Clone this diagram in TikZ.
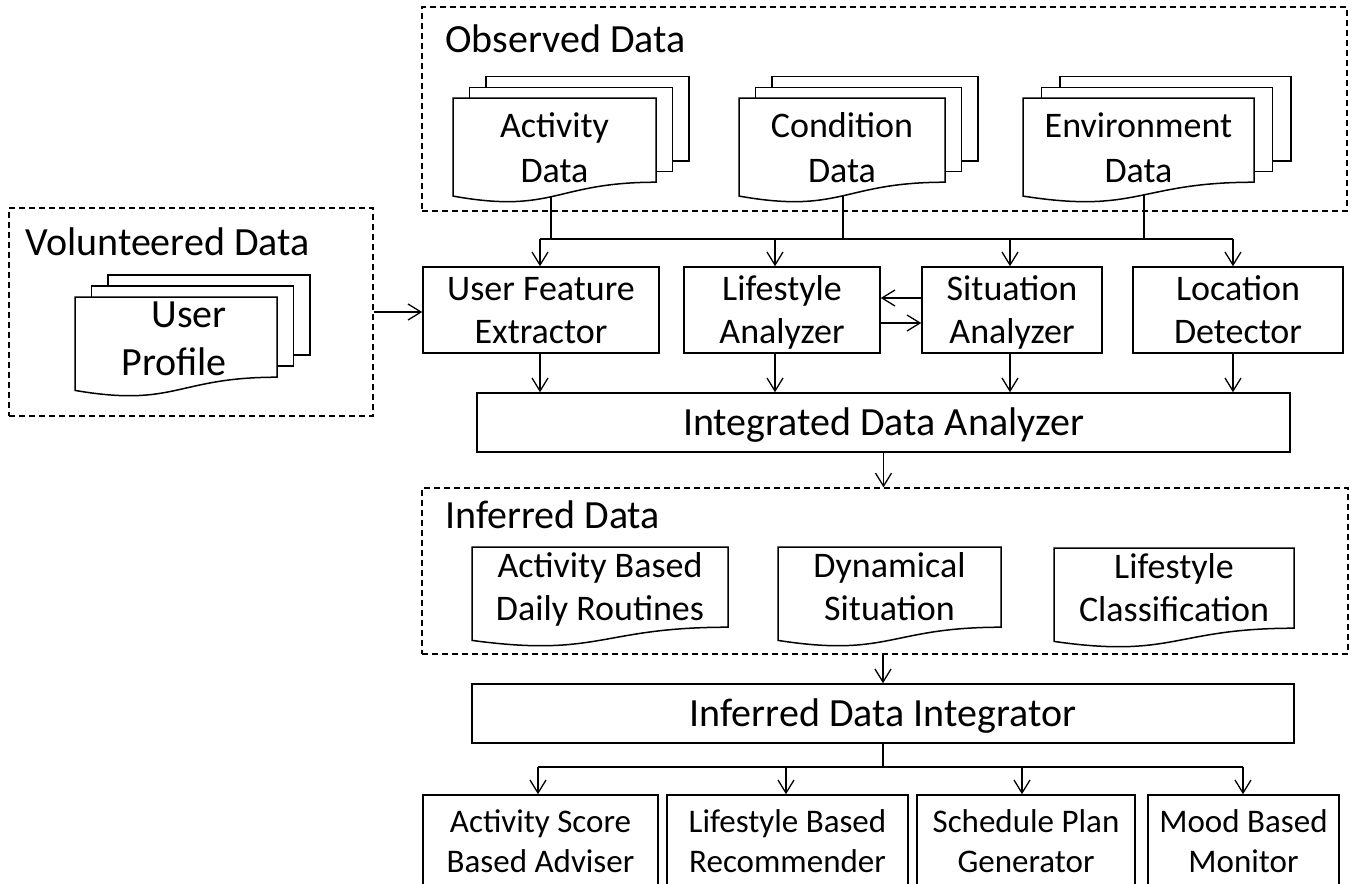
\documentclass[tikz,border=0pt]{standalone}
\usepackage{fontspec}
\setmainfont{Carlito}
\usetikzlibrary{arrows.meta}
\pgfdeclarelayer{back}
\pgfsetlayers{back,main}

% line struts: fix the height and depth of every text line
\newcommand\ls{\rule[-0.3em]{0pt}{1.15em}}
\newcommand\lb{\rule[-0.25em]{0pt}{1.15em}}

% front sheet of a document symbol: left x, top y, width, height
\newcommand\docsheet[4]{%
  \draw[sheet] (#1,#2) -- ({#1+#3},#2) -- ({#1+#3},{#2+0.802*#4})
    .. controls ({#1+0.5*#3},{#2+0.802*#4}) and ({#1+0.5*#3},{#2+1.1075*#4}) ..
    (#1,{#2+0.934*#4}) -- cycle;}
% stack of three sheets: left x, top y, width, height, x offset, y offset
\newcommand\docstack[6]{%
  \draw[sheet] ({#1+2*#5},{#2-2*#6}) rectangle ({#1+#3+2*#5},{#2+0.802*#4-2*#6});
  \draw[sheet] ({#1+#5},{#2-#6}) rectangle ({#1+#3+#5},{#2+0.802*#4-#6});
  \docsheet{#1}{#2}{#3}{#4}}

\tikzset{
  grp/.style={draw, dash pattern=on 6pt off 4pt, line width=1.3pt, inner sep=0pt},
  grptitle/.style={anchor=base west, inner sep=0pt, font=\fontsize{40}{48}\selectfont},
  proc/.style={draw, line width=1.5pt, inner sep=0pt, align=center, font=\fontsize{36}{43}\selectfont},
  bigproc/.style={proc, font=\fontsize{40}{48}\selectfont},
  outproc/.style={proc, font=\fontsize{33}{40}\selectfont},
  doctext/.style={inner sep=0pt, align=center, font=\fontsize{36}{45}\selectfont},
  sheet/.style={draw, fill=white, line width=1.5pt},
  link/.style={line width=1.3pt},
  arr/.style={link, -{Straight Barb[length=13pt,width=16pt]}},
}

\begin{document}
\begin{tikzpicture}[x=1pt, y=-1pt]
\useasboundingbox (0,0) rectangle (1353,884);
\clip (0,0) rectangle (1353,884);

% group frames and their titles
\node[grp, minimum width=925pt, minimum height=204pt] (obs) at (884.5,109) {};
\node[grp, minimum width=364pt, minimum height=208pt] (vol) at (191,312) {};
\node[grp, minimum width=926pt, minimum height=166pt] (inf) at (885,571) {};
\node[grptitle] (obsT) at (445,52) {Observed Data};
\node[grptitle] (volT) at (25,255) {Volunteered Data};
\node[grptitle] (infT) at (445,528) {Inferred Data};

% observed data sources
\docstack{453}{98}{203}{105}{16.5}{10.7}
\node[doctext] (act) at (554.5,150) {\ls Activity\\\ls Data};
\docstack{739}{98}{206}{105}{16.5}{10.7}
\node[doctext] (cond) at (842,150.5) {\ls Condition\\\ls Data};
\docstack{1023}{98}{231}{105}{18.5}{10.7}
\node[doctext] (env) at (1138.5,150.5) {\ls Environment\\\ls Data};

% volunteered data
\docstack{75}{297}{202}{100}{16.5}{11}
\node[doctext, align=right, anchor=east, font=\fontsize{40}{48}\selectfont] (prof) at (227,340) {\ls User\\\ls Profile};

% analyzers
\node[proc, minimum width=236pt, minimum height=86pt] (ufe) at (541,310) {\lb User Feature\\\lb Extractor};
\node[proc, minimum width=196pt, minimum height=86pt] (lsa) at (782,310) {\lb Lifestyle\\\lb Analyzer};
\node[proc, minimum width=180pt, minimum height=86pt] (sit) at (1012,310) {\lb Situation\\\lb Analyzer};
\node[proc, minimum width=210pt, minimum height=86pt] (loc) at (1238,310) {\lb Location\\\lb Detector};
\node[bigproc, minimum width=813pt, minimum height=59pt] (ida) at (883.5,422.5) {\lb Integrated Data Analyzer};

% inferred data
\docsheet{472}{547}{256}{100}
\node[doctext, font=\fontsize{36}{43}\selectfont] (abdr) at (600,589.5) {\ls Activity Based\\\ls Daily Routines};
\docsheet{778}{547}{223}{100}
\node[doctext, font=\fontsize{36}{43}\selectfont] (dyn) at (889.5,589.5) {\ls Dynamical\\\ls Situation};
\docsheet{1054}{548}{240}{100}
\node[doctext, font=\fontsize{36}{43}\selectfont] (lsc) at (1174,590.5) {\ls Lifestyle\\\ls Classification};

\node[bigproc, minimum width=822pt, minimum height=59pt] (idi) at (883,713.5) {\lb Inferred Data Integrator};

% services
\node[outproc, minimum width=235pt, minimum height=93pt] (asa) at (540.5,841.5) {\lb Activity Score\\\lb Based Adviser};
\node[outproc, minimum width=241pt, minimum height=93pt] (lbr) at (787.5,841.5) {\lb Lifestyle Based\\\lb Recommender};
\node[outproc, minimum width=218pt, minimum height=93pt] (spg) at (1026,841.5) {\lb Schedule Plan\\\lb Generator};
\node[outproc, minimum width=191pt, minimum height=93pt] (mbm) at (1243.5,841.5) {\lb Mood Based\\\lb Monitor};

% distribution buses
\coordinate (busA) at (540,239);
\coordinate (busB) at (1233,239);
\coordinate (busC) at (538,767);
\coordinate (busD) at (1243,767);

% feeds leaving the document stacks (behind the sheets)
\begin{pgfonlayer}{back}
\draw[link] ([xshift=-3.5pt]act.center) -- ([xshift=-3.5pt]act.center |- busA);
\draw[link] ([xshift=1pt]cond.center) -- ([xshift=1pt]cond.center |- busA);
\draw[link] ([xshift=5.5pt]env.center) -- ([xshift=5.5pt]env.center |- busA);
\end{pgfonlayer}

\draw[link] (busA) -- (busB);
\draw[arr] (busA) -- (busA |- ufe.north);
\draw[arr] ([xshift=-7pt]lsa.north |- busA) -- ([xshift=-7pt]lsa.north);
\draw[arr] ([xshift=-2pt]sit.north |- busA) -- ([xshift=-2pt]sit.north);
\draw[arr] (busB) -- (busB |- loc.north);

\draw[arr] (vol.east) -- (vol.east -| ufe.west);
\draw[arr] ([yshift=12pt]sit.west) -- ([yshift=12pt]lsa.east);
\draw[arr] ([yshift=-13pt]lsa.east) -- ([yshift=-13pt]sit.west);

\draw[arr] ([xshift=-1pt]ufe.south) -- ([xshift=-1pt]ufe.south |- ida.north);
\draw[arr] ([xshift=-7pt]lsa.south) -- ([xshift=-7pt]lsa.south |- ida.north);
\draw[arr] ([xshift=-2pt]sit.south) -- ([xshift=-2pt]sit.south |- ida.north);
\draw[arr] ([xshift=-5pt]loc.south) -- ([xshift=-5pt]loc.south |- ida.north);

\draw[arr] (ida.south) -- (ida.south |- inf.north);
\draw[arr] (idi.north |- inf.south) -- (idi.north);

\draw[link] (idi.south) -- (idi.south |- busC);
\draw[link] (busC) -- (busD);
\draw[arr] (busC) -- (busC |- asa.north);
\draw[arr] ([xshift=-1.5pt]lbr.north |- busC) -- ([xshift=-1.5pt]lbr.north);
\draw[arr] ([xshift=-4pt]spg.north |- busC) -- ([xshift=-4pt]spg.north);
\draw[arr] (busD) -- (busD |- mbm.north);
\end{tikzpicture}
\end{document}
